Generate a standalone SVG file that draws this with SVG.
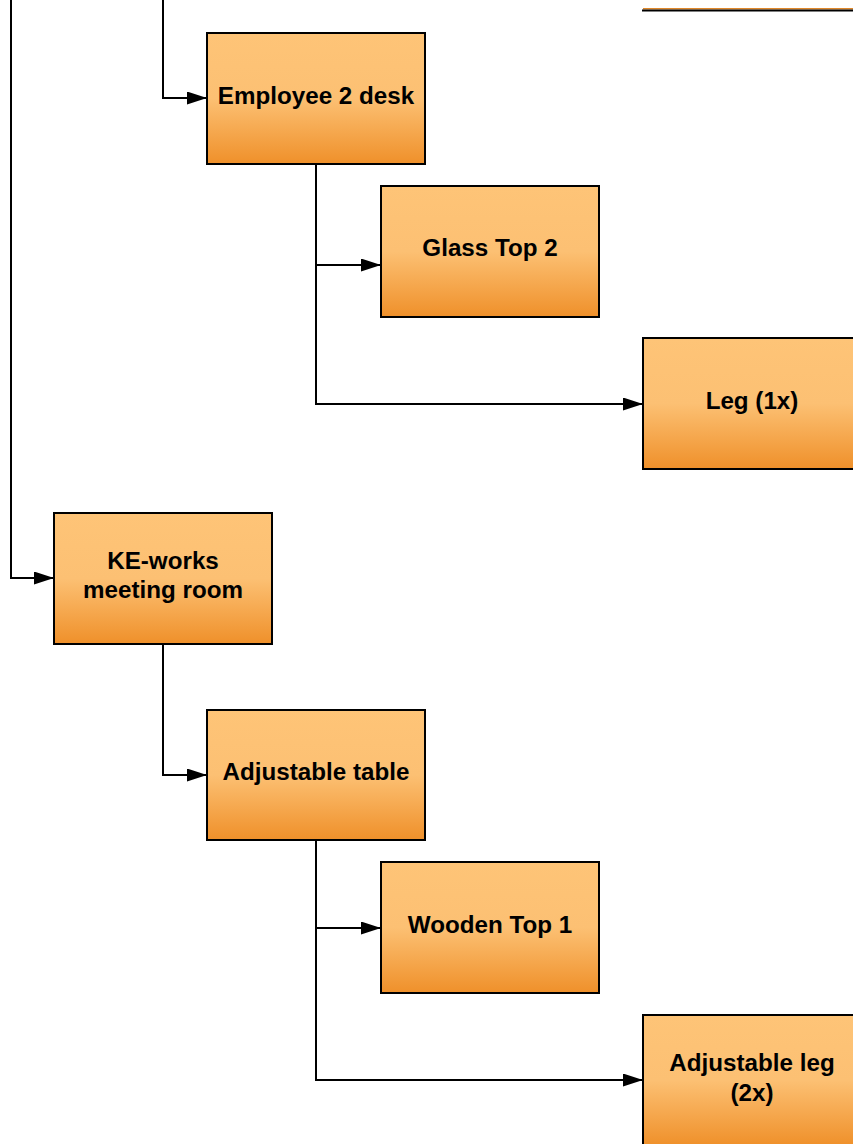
<svg xmlns="http://www.w3.org/2000/svg" width="853" height="1144" viewBox="0 0 853 1144">
<defs>
<linearGradient id="g" x1="0" y1="0" x2="0" y2="1">
<stop offset="0" stop-color="#FEC477"/>
<stop offset="0.5" stop-color="#FCC073"/>
<stop offset="1" stop-color="#EF902A"/>
</linearGradient>
<marker id="arr" viewBox="0 0 20 13" refX="20" refY="6.5" markerWidth="20" markerHeight="13" markerUnits="userSpaceOnUse" orient="auto">
<path d="M0,0 L20,6.5 L0,13 Z" fill="#000"/>
</marker>
<style>
.box{fill:url(#g);stroke:#000;stroke-width:2}
.lbl{font-family:"Liberation Sans",Arial,sans-serif;font-weight:bold;font-size:24.2px;fill:#000;text-anchor:middle}
.c{fill:none;stroke:#000;stroke-width:2;marker-end:url(#arr)}
</style>
</defs>
<rect width="853" height="1144" fill="#fff"/>
<g id="connectors">
<path class="c" d="M11,0 V578 H54"/>
<path class="c" d="M163,0 V98 H207"/>
<path class="c" d="M316,164 V265 H381"/>
<path class="c" d="M316,164 V404 H643"/>
<path class="c" d="M163,644 V775 H207"/>
<path class="c" d="M316,840 V928 H381"/>
<path class="c" d="M316,840 V1080 H643"/>
</g>
<g id="top-partial">
<rect x="643" y="8" width="210" height="1.5" fill="#E0882A"/>
<line x1="642" y1="10.5" x2="853" y2="10.5" stroke="#000" stroke-width="2"/>
</g>
<g id="employee2desk"><rect class="box" x="207" y="33" width="218" height="131"/><text class="lbl" x="316" y="104">Employee 2 desk</text></g>
<g id="glasstop2"><rect class="box" x="381" y="186" width="218" height="131"/><text class="lbl" x="490" y="256">Glass Top 2</text></g>
<g id="leg1x"><rect class="box" x="643" y="338" width="219" height="131"/><text class="lbl" x="752" y="409">Leg (1x)</text></g>
<g id="keworks"><rect class="box" x="54" y="513" width="218" height="131"/><text class="lbl" x="163" y="569">KE-works</text><text class="lbl" x="163" y="598">meeting room</text></g>
<g id="adjtable"><rect class="box" x="207" y="710" width="218" height="130"/><text class="lbl" x="316" y="780">Adjustable table</text></g>
<g id="woodentop1"><rect class="box" x="381" y="862" width="218" height="131"/><text class="lbl" x="490" y="933">Wooden Top 1</text></g>
<g id="adjleg"><rect class="box" x="643" y="1015" width="219" height="131"/><text class="lbl" x="752" y="1071">Adjustable leg</text><text class="lbl" x="752" y="1101">(2x)</text></g>
</svg>
